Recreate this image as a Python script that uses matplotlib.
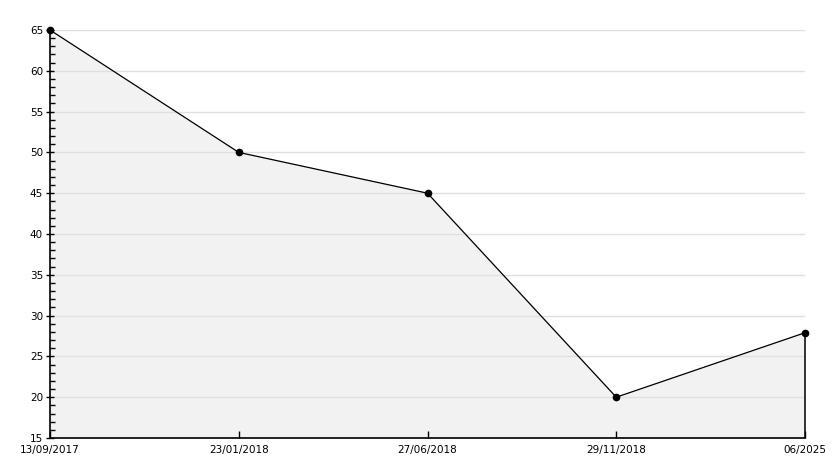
import matplotlib.pyplot as plt
from matplotlib.ticker import MultipleLocator

### data #####
dates = ["13/09/2017", "23/01/2018", "27/06/2018", "29/11/2018", "06/2025"]
values = [65, 50, 45, 20, 27.9]
#######

x = list(range(len(dates)))

fig = plt.figure(figsize=(8.34, 4.68), dpi=100)
ax = fig.add_axes([50/834, 30/468, 755/834, 408/468])

ax.fill_between(x, values, 15, color="#f2f2f2", zorder=1)
ax.plot(x, values, color="black", lw=0.9, marker="o", ms=4.5, zorder=4, clip_on=False)
ax.vlines(x[-1], 15, values[-1], color="black", lw=1.1, zorder=3, clip_on=False)

ax.set_xlim(0, len(dates) - 1)
ax.set_ylim(15, 65)
ax.yaxis.set_major_locator(MultipleLocator(5))
ax.yaxis.set_minor_locator(MultipleLocator(1))
ax.grid(axis="y", color="#e0e0e0", lw=1, zorder=0)
ax.set_xticks(x)
ax.set_xticklabels(dates)

for s in ["top", "right"]:
    ax.spines[s].set_visible(False)
for s in ["left", "bottom"]:
    ax.spines[s].set_linewidth(1.2)

ax.tick_params(axis="y", which="major", direction="inout", length=6, width=1, labelsize=7.5, pad=2)
ax.tick_params(axis="y", which="minor", direction="in", length=3.5, width=1)
ax.tick_params(axis="x", which="major", direction="in", length=5, width=1, labelsize=7.5, pad=5)

plt.savefig("out.png", dpi=100)
